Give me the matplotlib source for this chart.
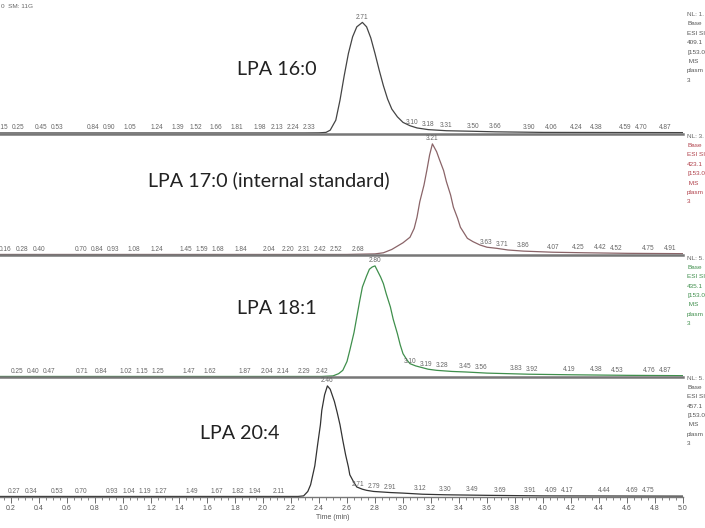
import numpy as np
from matplotlib import pyplot as plt
from matplotlib.ticker import MultipleLocator, FixedLocator

# chromatogram traces: retention time (min) and relative abundance (%)
t_160 = [0.0, 0.5, 1.0, 1.5, 2.0, 2.30, 2.40, 2.45, 2.48, 2.52, 2.55, 2.58, 2.61, 2.64, 2.67, 2.71,
         2.74, 2.77, 2.80, 2.83, 2.86, 2.89, 2.92, 2.96, 3.00, 3.05, 3.10, 3.18, 3.31, 3.50, 3.66,
         4.00, 4.50, 5.00]
i_160 = [0.5, 0.5, 0.5, 0.5, 0.5, 0.5, 0.6, 1, 3, 12, 30, 52, 72, 87, 96, 100,
         96, 86, 72, 57, 43, 31, 22, 15, 10, 7, 5, 3.5, 2.5, 2, 1.5,
         1, 0.9, 0.8]

t_170 = [0.0, 0.5, 1.0, 1.5, 2.0, 2.60, 2.80, 2.86, 2.92, 2.96, 3.00, 3.05, 3.08, 3.10, 3.12, 3.15,
         3.17, 3.19, 3.21, 3.24, 3.26, 3.29, 3.31, 3.34, 3.36, 3.39, 3.41, 3.44, 3.46, 3.50, 3.55,
         3.60, 3.67, 3.75, 3.86, 4.07, 4.30, 4.60, 5.00]
i_170 = [0.5, 0.5, 0.5, 0.5, 0.5, 0.5, 1, 2, 5, 8, 11, 16, 24, 34, 48, 63,
         76, 90, 100, 93, 86, 76, 66, 54, 43, 33, 25, 19, 15, 12, 9,
         7, 6, 4.5, 3.5, 2.5, 2, 1.5, 1.2]

t_181 = [0.0, 0.5, 1.0, 1.5, 2.0, 2.42, 2.50, 2.54, 2.57, 2.60, 2.62, 2.65, 2.67, 2.69, 2.71, 2.74,
         2.76, 2.78, 2.80, 2.82, 2.84, 2.86, 2.88, 2.91, 2.93, 2.96, 2.98, 3.00, 3.03, 3.05, 3.09,
         3.12, 3.18, 3.24, 3.35, 3.45, 3.60, 3.90, 4.20, 4.60, 5.00]
i_181 = [0.5, 0.5, 0.5, 0.5, 0.5, 0.5, 1, 3, 6, 14, 24, 40, 54, 68, 81, 91,
         97, 99, 100, 95, 90, 84, 75, 63, 52, 39, 29, 21, 15, 12, 10,
         9, 7, 6, 5, 4.5, 3.5, 2.5, 2, 1.5, 1.2]

t_204 = [0.0, 0.5, 1.0, 1.5, 2.0, 2.25, 2.29, 2.32, 2.34, 2.37, 2.39, 2.41, 2.42, 2.44, 2.46, 2.48,
         2.51, 2.53, 2.55, 2.57, 2.59, 2.61, 2.62, 2.65, 2.67, 2.71, 2.74, 2.79, 2.91, 3.00, 3.14,
         3.30, 3.60, 4.00, 5.00]
i_204 = [0.5, 0.5, 0.5, 0.5, 0.5, 0.5, 1, 5, 11, 28, 47, 65, 78, 92, 100, 97,
         86, 76, 65, 51, 38, 27, 20, 13, 9, 7, 6, 5, 4, 3.5, 2.5,
         2, 1.5, 1, 0.8]

# retention times labelled by the software on each trace
lab_160 = [0.15, 0.25, 0.45, 0.53, 0.84, 0.90, 1.05, 1.24, 1.39, 1.52, 1.66, 1.81, 1.98, 2.13, 2.24,
           2.33, 2.71, 3.10, 3.18, 3.31, 3.50, 3.66, 3.90, 4.06, 4.24, 4.38, 4.59, 4.70, 4.87]
lab_170 = [0.16, 0.28, 0.40, 0.70, 0.84, 0.93, 1.08, 1.24, 1.45, 1.59, 1.68, 1.84, 2.04, 2.20, 2.31,
           2.42, 2.52, 2.68, 3.21, 3.63, 3.71, 3.86, 4.07, 4.25, 4.42, 4.52, 4.75, 4.91]
lab_181 = [0.25, 0.40, 0.47, 0.71, 0.84, 1.02, 1.15, 1.25, 1.47, 1.62, 1.87, 2.04, 2.14, 2.29, 2.42,
           2.80, 3.10, 3.19, 3.28, 3.45, 3.56, 3.83, 3.92, 4.19, 4.38, 4.53, 4.76, 4.87]
lab_204 = [0.27, 0.34, 0.53, 0.70, 0.93, 1.04, 1.19, 1.27, 1.49, 1.67, 1.82, 1.94, 2.11, 2.46, 2.71,
           2.79, 2.91, 3.12, 3.30, 3.49, 3.69, 3.91, 4.09, 4.17, 4.44, 4.69, 4.75]

titles = ["LPA 16:0", "LPA 17:0 (internal standard)", "LPA 18:1", "LPA 20:4"]
title_x = [2.10, 2.04, 2.10, 1.835]
title_y = [58, 67, 62, 57]
nl_text = ["NL: 1.", "NL: 3.", "NL: 5.", "NL: 5."]
mz_text = ["409.1", "423.1", "435.1", "457.1"]

traces = [(t_160, i_160, lab_160), (t_170, i_170, lab_170),
          (t_181, i_181, lab_181), (t_204, i_204, lab_204)]
line_colors = ["#444444", "#8a6468", "#3f8f4c", "#333333"]
text_colors = ["#555555", "#b0404a", "#3f8f4c", "#555555"]

W, H = 705, 528
fig = plt.figure(figsize=(W / 100, H / 100), dpi=100)

# pixel geometry of the original screenshot (x=0 min sits just off the left edge)
x0_px, x5_px = -17, 683
baselines = [133.5, 255, 377, 497]
ax_h = 120
min_gap = 0.115  # label spacing in minutes, like the software's collision shifting

small = dict(family=["Liberation Sans", "DejaVu Sans"])


def spread(vals, gap):
    # push crowded labels to the left, working from the right end
    pos = list(vals)
    for j in range(len(pos) - 2, -1, -1):
        if pos[j + 1] - pos[j] < gap:
            pos[j] = pos[j + 1] - gap
    return pos


for k, (tt, ii, labs) in enumerate(traces):
    ax = fig.add_axes([x0_px / W, 1 - baselines[k] / H, (x5_px - x0_px) / W, ax_h / H])
    ax.plot(tt, ii, color=line_colors[k], lw=0.9)
    ax.set_xlim(0, 5.0)
    ax.set_ylim(0, 108)
    for s in ["top", "left", "right"]:
        ax.spines[s].set_visible(False)
    ax.spines["bottom"].set_color("#777777")
    ax.spines["bottom"].set_linewidth(1.8 if k < 3 else 1.0)
    ax.set_yticks([])
    ax.patch.set_alpha(0)

    peak = labs[int(np.argmax([np.interp(v, tt, ii) for v in labs]))]
    base_labs = [v for v in labs if v != peak]
    for v, p in zip(base_labs, spread(base_labs, min_gap)):
        yv = np.interp(v, tt, ii)
        ax.annotate(f"{v:.2f}", (p, yv), xytext=(0, 1.2), textcoords="offset points",
                    ha="center", va="bottom", fontsize=4.7, color="#666666", **small)
    ax.annotate(f"{peak:.2f}", (peak, np.interp(peak, tt, ii)), xytext=(0, 1.2),
                textcoords="offset points", ha="center", va="bottom", fontsize=4.7,
                color="#666666", **small)

    ax.text(title_x[k], title_y[k], titles[k], ha="center", va="center", fontsize=14.2,
            color="#222222", family=["Lato", "DejaVu Sans"])

    info = [nl_text[k], "Base", "ESI SI", mz_text[k], "[153.0", " MS", "plasm", "3"]
    for j, line in enumerate(info):
        fig.text(687 / W, 1 - (baselines[k] - 119 + j * 9.4) / H, line,
                 fontsize=4.6, va="center", ha="left",
                 color="#666666" if j == 0 else text_colors[k], **small)

    if k < 3:
        ax.set_xticks([])
    else:
        ax.xaxis.set_major_locator(FixedLocator(np.round(np.arange(0.2, 5.01, 0.2), 1)))
        ax.xaxis.set_minor_locator(MultipleLocator(0.05))
        ax.set_xticklabels([f"{v:.1f}" for v in np.arange(0.2, 5.01, 0.2)], fontsize=5, color="#555555", **small)
        ax.tick_params(axis="x", which="major", direction="out", length=4, width=0.6,
                       color="#555555", pad=1.5)
        ax.tick_params(axis="x", which="minor", direction="out", length=2.5, width=0.5,
                       color="#555555")
        ax.set_xlabel("Time (min)", fontsize=5, color="#555555", labelpad=1.5, **small)

fig.text(1 / W, 1 - 6 / H, "0  SM: 11G", fontsize=4.6, color="#666666", va="center", **small)

fig.savefig("out.png", dpi=100)
